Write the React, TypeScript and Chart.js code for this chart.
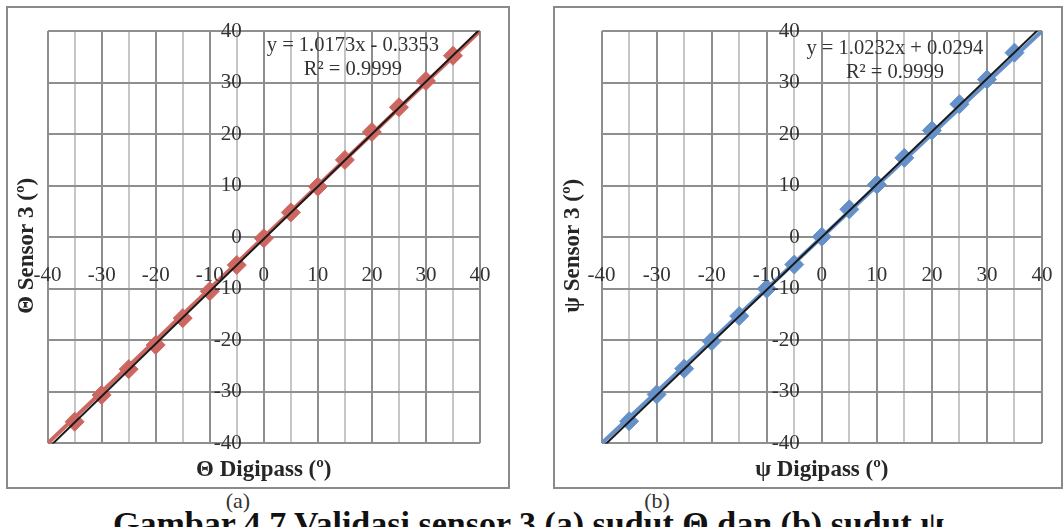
import React, { useEffect, useRef } from 'react';
import { Chart, registerables } from 'chart.js';

Chart.register(...registerables);

// ---- data ----
const digipassAngles = [-35, -30, -25, -20, -15, -10, -5, 0, 5, 10, 15, 20, 25, 30, 35];
const thetaSensor3 = [-35.8, -30.6, -25.6, -20.9, -15.7, -10.5, -5.4, -0.2, 4.8, 9.8, 15.0, 20.4, 25.2, 30.3, 35.2];
const psiSensor3 = [-35.7, -30.5, -25.5, -20.2, -15.3, -10.0, -5.3, 0.1, 5.4, 10.2, 15.4, 20.7, 25.8, 30.6, 35.8];
const thetaTrend = [1.0173, -0.3353]; // slope, intercept
const psiTrend = [1.0232, 0.0294];
const thetaEquation = ['y = 1.0173x - 0.3353', 'R² = 0.9999'];
const psiEquation = ['y = 1.0232x + 0.0294', 'R² = 0.9999'];
const axisRange = [-40, 40];
const axisTickLabels = [-40, -30, -20, -10, 0, 10, 20, 30, 40];

const SERIF = '"Liberation Serif", "Times New Roman", serif';

const zeroAxisLabels = {
  id: 'zeroAxisLabels',
  afterDatasetsDraw(chart: any, _args: any, opts: any) {
    const { ctx } = chart;
    const xs = chart.scales.x;
    const ys = chart.scales.y;
    const x0 = xs.getPixelForValue(0);
    const y0 = ys.getPixelForValue(0);
    ctx.save();
    ctx.font = `21px ${SERIF}`;
    ctx.fillStyle = '#333333';
    ctx.textBaseline = 'middle';
    ctx.textAlign = 'right';
    for (const v of axisTickLabels) ctx.fillText(String(v), x0 - opts.yGap, ys.getPixelForValue(v));
    ctx.textAlign = 'center';
    for (const v of axisTickLabels) ctx.fillText(String(v), xs.getPixelForValue(v), y0 + opts.xGap);
    ctx.restore();
  },
};

const equationLabel = {
  id: 'equationLabel',
  afterDatasetsDraw(chart: any, _args: any, opts: any) {
    const { ctx, chartArea } = chart;
    ctx.save();
    ctx.font = `20.5px ${SERIF}`;
    ctx.fillStyle = '#333333';
    ctx.textAlign = 'center';
    ctx.textBaseline = 'middle';
    const cx = chartArea.left + opts.fx * (chartArea.right - chartArea.left);
    (opts.lines as string[]).forEach((t, i) => ctx.fillText(t, cx, opts.y0 + i * opts.lh));
    ctx.restore();
  },
};

type Props = {
  values: number[];
  trend: number[];
  equation: string[];
  color: string;
  xTitle: string;
  yTitle: string;
  padRight: number;
  yTitlePad: { top: number; bottom: number };
  eq: { fx: number; y0: number };
};

function ValidationChart(p: Props) {
  const ref = useRef<HTMLCanvasElement>(null);
  useEffect(() => {
    if (!ref.current) return;
    const [lo, hi] = axisRange;
    const [m, b] = p.trend;
    const chart = new Chart(ref.current, {
      type: 'scatter',
      data: {
        datasets: [
          {
            label: 'Linear',
            data: [
              { x: lo, y: m * lo + b },
              { x: hi, y: m * hi + b },
            ],
            showLine: true,
            borderColor: '#1a1a1a',
            borderWidth: 2,
            pointRadius: 0,
            clip: 0,
            order: 0,
          },
          {
            label: 'Sensor 3',
            data: digipassAngles.map((x, i) => ({ x, y: p.values[i] })),
            pointStyle: 'rectRot',
            pointRadius: 9.5,
            backgroundColor: p.color,
            borderColor: p.color,
            borderWidth: 1,
            order: 1,
          },
          {
            label: 'Ideal',
            data: [
              { x: lo, y: lo },
              { x: hi, y: hi },
            ],
            showLine: true,
            borderColor: p.color,
            borderWidth: 4,
            pointRadius: 0,
            clip: 0,
            order: 2,
          },
        ],
      },
      options: {
        animation: false,
        responsive: true,
        maintainAspectRatio: false,
        layout: { padding: { top: 23, right: p.padRight, left: 0, bottom: 0 } },
        plugins: {
          legend: { display: false },
          tooltip: { enabled: false },
          zeroAxisLabels: { xGap: 38, yGap: 22 },
          equationLabel: { lines: p.equation, fx: p.eq.fx, y0: p.eq.y0, lh: 24 },
        } as any,
        scales: {
          x: {
            type: 'linear',
            min: lo,
            max: hi,
            ticks: { stepSize: 5, display: false },
            grid: {
              drawTicks: false,
              color: (c: any) => (c.tick && c.tick.value % 10 === 0 ? '#8e8e8e' : '#c6c6c6'),
              lineWidth: 2,
            },
            border: { display: false },
            title: {
              display: true,
              text: p.xTitle,
              color: '#262626',
              font: { family: SERIF, size: 23, weight: 'bold', lineHeight: 1.2 },
              padding: { top: 13, bottom: 3 },
            },
          },
          y: {
            type: 'linear',
            min: lo,
            max: hi,
            ticks: { stepSize: 10, display: false },
            grid: { drawTicks: false, color: '#8e8e8e', lineWidth: 2 },
            border: { display: false },
            title: {
              display: true,
              text: p.yTitle,
              color: '#262626',
              font: { family: SERIF, size: 23, weight: 'bold', lineHeight: 1.2 },
              padding: p.yTitlePad,
            },
          },
        },
      },
      plugins: [zeroAxisLabels, equationLabel],
    });
    return () => chart.destroy();
  }, []);
  return <canvas ref={ref} />;
}

export default function App() {
  const abs = (l: number, t: number, w: number, h: number): React.CSSProperties => ({
    position: 'absolute',
    left: l,
    top: t,
    width: w,
    height: h,
  });
  return (
    <div style={{ ...abs(0, 0, 1064, 527), overflow: 'hidden', background: '#ffffff', fontFamily: SERIF }}>
      <div style={{ ...abs(6, 6, 504, 483), border: '2px solid #8a8a8a', boxSizing: 'border-box' }} />
      <div style={abs(8, 8, 500, 479)}>
        <ValidationChart
          values={thetaSensor3}
          trend={thetaTrend}
          equation={thetaEquation}
          color="#cc6660"
          xTitle="Θ Digipass (º)"
          yTitle={'Θ Sensor 3 (º)   '}
          padRight={28}
          yTitlePad={{ top: 5, bottom: 7 }}
          eq={{ fx: 0.706, y0: 38 }}
        />
      </div>
      <div style={{ ...abs(553, 6, 510, 483), border: '2px solid #8a8a8a', boxSizing: 'border-box' }} />
      <div style={abs(555, 8, 506, 479)}>
        <ValidationChart
          values={psiSensor3}
          trend={psiTrend}
          equation={psiEquation}
          color="#6590c8"
          xTitle="ψ Digipass (º)"
          yTitle={'ψ Sensor 3 (º)   '}
          padRight={19}
          yTitlePad={{ top: 4, bottom: 15 }}
          eq={{ fx: 0.666, y0: 41 }}
        />
      </div>
      <div style={{ ...abs(208, 488, 60, 26), textAlign: 'center', fontSize: 22, lineHeight: '26px', color: '#333' }}>(a)</div>
      <div style={{ ...abs(627, 488, 60, 26), textAlign: 'center', fontSize: 22, lineHeight: '26px', color: '#333' }}>(b)</div>
      <div
        style={{
          position: 'absolute',
          left: 113,
          top: 505,
          whiteSpace: 'nowrap',
          fontSize: 34,
          lineHeight: '38px',
          fontWeight: 'bold',
          color: '#111',
        }}
      >
        Gambar 4.7 Validasi sensor 3 (a) sudut Θ dan (b) sudut ψ
      </div>
    </div>
  );
}
